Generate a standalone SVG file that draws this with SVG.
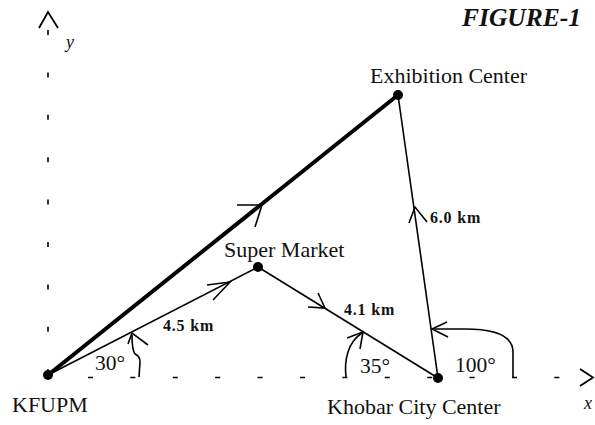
<svg xmlns="http://www.w3.org/2000/svg" width="595" height="425" viewBox="0 0 595 425">
<style>
text{font-family:"Liberation Serif","Times New Roman",serif;fill:#111}
.lbl{font-size:22px}
.deg{font-size:21.5px}
.dist{font-size:16px;font-weight:bold;letter-spacing:0.8px}
.ax{fill:none;stroke:#000;stroke-width:1.6;stroke-dasharray:5 37.4}
.axh{fill:none;stroke:#000;stroke-width:1.8;stroke-linejoin:miter}
.thin{fill:none;stroke:#000;stroke-width:1.6}
.thick{fill:none;stroke:#000;stroke-width:4}
.chev{fill:none;stroke:#000;stroke-width:1.6;stroke-linejoin:miter}
.dot{fill:#000}
</style>
<rect width="595" height="425" fill="#fff"/>
<g id="axes">
<line class="ax" x1="48" y1="30" x2="48" y2="372"/>
<polyline class="axh" points="39,28 48,12 58,28"/>
<text x="66" y="48" font-size="18" font-style="italic">y</text>
<line class="ax" x1="88" y1="377.5" x2="570" y2="377.5"/>
<polyline class="axh" points="580,369 593,377.5 580,386"/>
<text x="584" y="409" font-size="18" font-style="italic">x</text>
</g>
<text id="title" x="462" y="26" font-size="25.5" font-weight="bold" font-style="italic">FIGURE-1</text>
<g id="connectors">
<line class="thick" x1="48" y1="375" x2="398" y2="95"/>
<polyline class="chev" points="237,205 262,205 255,227"/>
<line class="thin" x1="48" y1="375" x2="258" y2="267"/>
<polyline class="chev" points="207,285 230,282 213,300"/>
<line class="thin" x1="258" y1="267" x2="438" y2="378"/>
<polyline class="chev" points="308,307 325,308 318,293"/>
<line class="thin" x1="438" y1="378" x2="398" y2="95"/>
<polyline class="chev" points="409,223 415,207 427,222"/>
<text class="dist" x="163" y="331">4.5 km</text>
<text class="dist" x="344" y="315">4.1 km</text>
<text class="dist" x="430" y="223">6.0 km</text>
</g>
<g id="angles">
<path class="thin" d="M139,377 L140,362 Q140,356 135,354 Q132,350 132,335"/>
<polyline class="chev" points="128,344 132,333 148,345"/>
<text class="deg" x="95" y="370">30°</text>
<path class="thin" d="M346,377 C344,360 348,342 362,333"/>
<polyline class="chev" points="347,338 363,332 360,349"/>
<text class="deg" x="360" y="373">35°</text>
<path class="thin" d="M513,377 L513,352 C513,336 495,329 465,329 L433,329"/>
<polyline class="chev" points="447,322 432,329 448,337"/>
<text class="deg" x="455" y="372">100°</text>
</g>
<g id="node-kfupm">
<circle class="dot" cx="48" cy="375" r="5"/>
<text class="lbl" x="12" y="412">KFUPM</text>
</g>
<g id="node-super-market">
<circle class="dot" cx="258" cy="267" r="5"/>
<text class="lbl" x="224" y="257">Super Market</text>
</g>
<g id="node-exhibition-center">
<circle class="dot" cx="398" cy="95" r="5"/>
<text class="lbl" x="370" y="83">Exhibition Center</text>
</g>
<g id="node-khobar-city-center">
<circle class="dot" cx="438" cy="378" r="5"/>
<text class="lbl" x="327" y="414">Khobar City Center</text>
</g>
</svg>
